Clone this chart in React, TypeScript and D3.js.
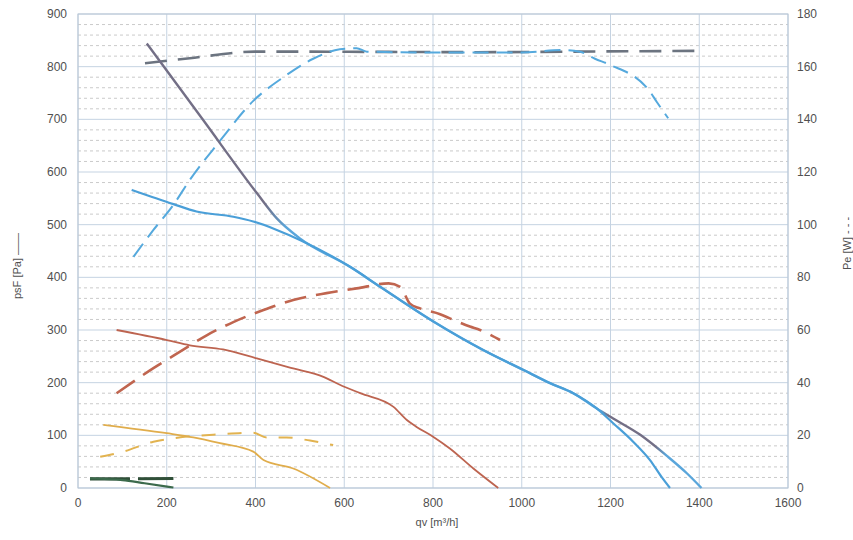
import React from "react";
import * as d3 from "d3";

// ---- data ----
const xTicks = [0, 200, 400, 600, 800, 1000, 1200, 1400, 1600];
const yTicks = [0, 100, 200, 300, 400, 500, 600, 700, 800, 900];
const y2Ticks = [0, 20, 40, 60, 80, 100, 120, 140, 160, 180];

// pressure curves psF [Pa]
const grayPsX = [155, 280, 403, 448, 500, 613, 681, 801, 913, 1004, 1064, 1116, 1169, 1206, 1267, 1327, 1372, 1405];
const grayPsY = [844, 701, 560, 512, 474, 420, 382, 316, 262, 224, 199, 180, 151, 132, 101, 61, 28, 0];
const bluePsX = [121, 215, 267, 350, 395, 448, 500, 613, 681, 801, 913, 1004, 1064, 1116, 1169, 1206, 1251, 1289, 1315, 1334];
const bluePsY = [566, 539, 525, 515, 506, 490, 471, 420, 382, 316, 262, 224, 199, 180, 151, 123, 88, 53, 21, 0];
const redPsX = [87, 200, 252, 327, 403, 485, 553, 590, 636, 711, 741, 763, 801, 838, 891, 947];
const redPsY = [300, 281, 271, 263, 246, 227, 211, 196, 180, 154, 129, 116, 97, 75, 37, 0];
const yellowPsX = [57, 200, 260, 320, 395, 418, 485, 568];
const yellowPsY = [120, 104, 96, 85, 69, 53, 37, 0];
const greenPsX = [27, 100, 150, 215];
const greenPsY = [18, 15, 9, 1];

// power curves Pe [W]
const grayPeX = [151, 252, 399, 500, 700, 900, 1100, 1405];
const grayPeY = [161.3, 163.2, 165.7, 165.7, 165.6, 165.5, 165.7, 166];
const bluePeX = [125, 170, 215, 252, 316, 395, 463, 530, 590, 628, 651, 800, 1000, 1094, 1131, 1165, 1199, 1289, 1304, 1330];
const bluePeY = [87.8, 98, 107.5, 117, 131, 147, 156, 163, 166.6, 167, 165.7, 165.4, 165.4, 166.3, 165.7, 163, 160.7, 150.5, 146.7, 140.4];
const redPeX = [87, 170, 230, 290, 350, 418, 485, 560, 628, 700, 726, 748, 771, 816, 838, 883, 906, 951];
const redPeY = [36, 45.5, 51.8, 58, 63, 67.6, 71.4, 74, 75.8, 77.7, 76.4, 70, 68.2, 66, 64.4, 61.3, 60, 56.2];
const yellowPeX = [50, 102, 170, 215, 320, 395, 425, 470, 523, 575];
const yellowPeY = [11.9, 13.8, 17.6, 18.9, 20.4, 21, 19.2, 19.2, 18, 16.3];
const greenPeX = [27, 120, 215];
const greenPeY = [3.5, 3.5, 3.6];

const W = 853;
const H = 540;
const left = 78, right = 788, top = 14, bottom = 488;

export default function App() {
  const x = d3.scaleLinear().domain([0, 1600]).range([left, right]);
  const y = d3.scaleLinear().domain([0, 900]).range([bottom, top]);
  const y2 = d3.scaleLinear().domain([0, 180]).range([bottom, top]);

  const zip = (xs: number[], ys: number[]) => xs.map((v, i) => [v, ys[i]] as [number, number]);
  const lineP = d3.line<[number, number]>().x((d) => x(d[0])).y((d) => y(d[1])).curve(d3.curveMonotoneX);
  const lineE = d3.line<[number, number]>().x((d) => x(d[0])).y((d) => y2(d[1])).curve(d3.curveMonotoneX);

  const minor = d3.range(0, 901, 20).filter((v) => v % 100 !== 0);
  const font = "'Liberation Sans', Arial, sans-serif";
  const off = (v: number) => (x(v) - left) / (right - left);

  return (
    <svg width={W} height={H} style={{ position: "absolute", left: 0, top: 0, background: "#fff" }}>
      <defs>
        <linearGradient id="grayGrad" gradientUnits="userSpaceOnUse" x1={x(0)} x2={x(1600)} y1={0} y2={0}>
          <stop offset={off(420)} stopColor="#736f86" />
          <stop offset={off(470)} stopColor="#5aa6db" />
          <stop offset={off(1175)} stopColor="#5aa6db" />
          <stop offset={off(1195)} stopColor="#736f86" />
          <stop offset={off(1300)} stopColor="#736f86" />
          <stop offset={off(1325)} stopColor="#5aa6db" />
        </linearGradient>
      </defs>
      {/* minor grid */}
      {minor.map((v) => (
        <line key={"m" + v} x1={left} x2={right} y1={y(v)} y2={y(v)} stroke="#bdbdbd" strokeWidth={0.8} strokeDasharray="3,3" />
      ))}
      {/* major grid */}
      {yTicks.map((v) => (
        <line key={"h" + v} x1={left} x2={right} y1={y(v)} y2={y(v)} stroke="#c5d3e2" strokeWidth={1} />
      ))}
      {xTicks.map((v) => (
        <line key={"v" + v} x1={x(v)} x2={x(v)} y1={top} y2={bottom} stroke="#c5d3e2" strokeWidth={1} />
      ))}
      <rect x={left} y={top} width={right - left} height={bottom - top} fill="none" stroke="#b9c7d6" strokeWidth={1} />

      {/* power (dashed) curves */}
      <path d={lineE(zip(grayPeX, grayPeY)) || ""} fill="none" stroke="#6c7480" strokeWidth={2.6} strokeDasharray="22,11" />
      <path d={lineE(zip(bluePeX, bluePeY)) || ""} fill="none" stroke="#55a9dd" strokeWidth={2} strokeDasharray="16,8" />
      <path d={lineE(zip(redPeX, redPeY)) || ""} fill="none" stroke="#c0654f" strokeWidth={2.6} strokeDasharray="22,10" />
      <path d={lineE(zip(yellowPeX, yellowPeY)) || ""} fill="none" stroke="#e2b350" strokeWidth={2} strokeDasharray="14,12" />
      <path d={lineE(zip(greenPeX, greenPeY)) || ""} fill="none" stroke="#2f4f38" strokeWidth={3.2} strokeDasharray="40,8" />

      {/* pressure (solid) curves */}
      <path d={lineP(zip(grayPsX, grayPsY)) || ""} fill="none" stroke="url(#grayGrad)" strokeWidth={2.4} />
      <path d={lineP(zip(bluePsX, bluePsY)) || ""} fill="none" stroke="#4a9fd8" strokeWidth={2.2} />
      <path d={lineP(zip(redPsX, redPsY)) || ""} fill="none" stroke="#bd6450" strokeWidth={1.8} />
      <path d={lineP(zip(yellowPsX, yellowPsY)) || ""} fill="none" stroke="#e0ad4c" strokeWidth={1.8} />
      <path d={lineP(zip(greenPsX, greenPsY)) || ""} fill="none" stroke="#3b6a4c" strokeWidth={2.2} />

      {/* tick labels */}
      {yTicks.map((v) => (
        <text key={"yl" + v} x={67} y={y(v) + 4} textAnchor="end" fontFamily={font} fontSize={12} fill="#505050">
          {v}
        </text>
      ))}
      {y2Ticks.map((v) => (
        <text key={"y2l" + v} x={797} y={y2(v) + 4} textAnchor="start" fontFamily={font} fontSize={12} fill="#505050">
          {v}
        </text>
      ))}
      {xTicks.map((v) => (
        <text key={"xl" + v} x={x(v)} y={507} textAnchor="middle" fontFamily={font} fontSize={12} fill="#505050">
          {v}
        </text>
      ))}

      {/* axis titles */}
      <text x={437} y={526} textAnchor="middle" fontFamily={font} fontSize={11} fill="#505050">
        qv [m³/h]
      </text>
      <text transform="translate(21,266) rotate(-90)" textAnchor="middle" fontFamily={font} fontSize={11} fill="#505050">
        psF [Pa] ——
      </text>
      <text transform="translate(851,270) rotate(-90)" textAnchor="start" fontFamily={font} fontSize={11} fill="#505050">
        Pe [W] - - -
      </text>
    </svg>
  );
}
